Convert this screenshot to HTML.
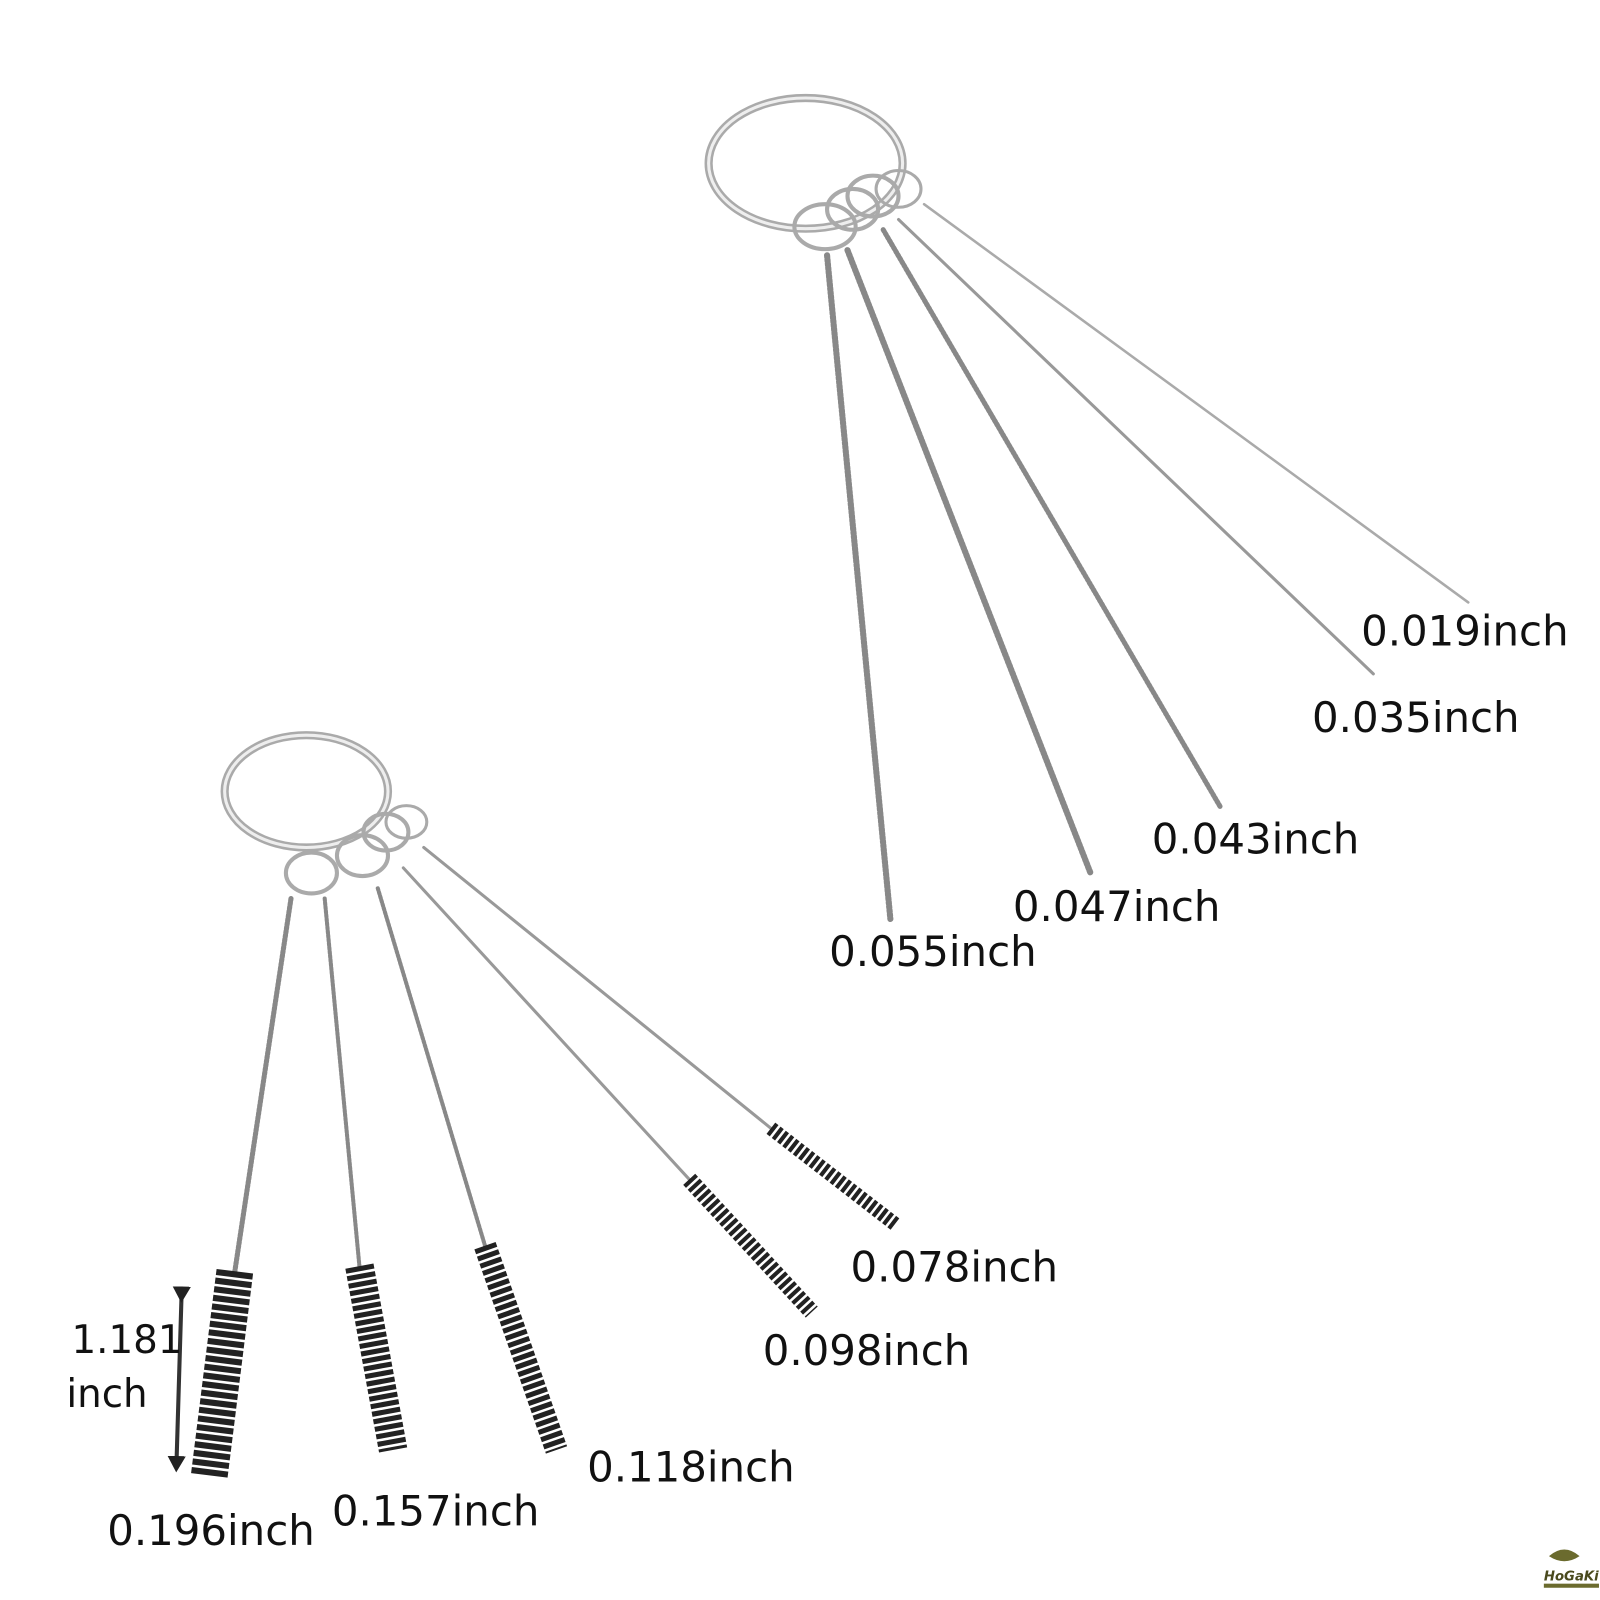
<!DOCTYPE html>
<html><head><meta charset="utf-8"><style>
html,body{margin:0;padding:0;background:#fff;width:1600px;height:1600px;overflow:hidden}
svg{display:block}
text{font-family:"DejaVu Sans","Liberation Sans",sans-serif;fill:#111;font-size:41px}
</style></head><body>
<svg width="1600" height="1600" viewBox="0 0 1567 1567" xmlns="http://www.w3.org/2000/svg">
<defs>
<marker id="ah" markerWidth="16" markerHeight="18" refX="2" refY="9" orient="auto" markerUnits="userSpaceOnUse">
<path d="M0,0 L16,9 L0,18 z" fill="#222"/></marker>
</defs>
<g fill="none" stroke-linecap="round">
<ellipse cx="789" cy="160" rx="95" ry="64" stroke="#aaa" stroke-width="8"/>
<ellipse cx="789" cy="160" rx="95" ry="64" stroke="#eee" stroke-width="3"/>
<ellipse cx="808" cy="222" rx="30" ry="22" stroke="#aaa" stroke-width="4"/>
<ellipse cx="835" cy="205" rx="25" ry="20" stroke="#aaa" stroke-width="4"/>
<ellipse cx="855" cy="192" rx="25" ry="20" stroke="#aaa" stroke-width="4"/>
<ellipse cx="880" cy="185" rx="22" ry="18" stroke="#aaa" stroke-width="3"/>
<line x1="810" y1="250" x2="872" y2="900" stroke="#888" stroke-width="6" stroke-dasharray="2 2"/>
<line x1="830" y1="245" x2="1068" y2="855" stroke="#888" stroke-width="6" stroke-dasharray="2 2"/>
<line x1="865" y1="225" x2="1195" y2="790" stroke="#888" stroke-width="5" stroke-dasharray="2 2"/>
<line x1="880" y1="215" x2="1345" y2="660" stroke="#999" stroke-width="3"/>
<line x1="905" y1="200" x2="1438" y2="590" stroke="#aaa" stroke-width="2.5"/>
<ellipse cx="300" cy="775" rx="80" ry="55" stroke="#aaa" stroke-width="8"/>
<ellipse cx="300" cy="775" rx="80" ry="55" stroke="#eee" stroke-width="3"/>
<ellipse cx="305" cy="855" rx="25" ry="20" stroke="#aaa" stroke-width="4"/>
<ellipse cx="355" cy="838" rx="25" ry="20" stroke="#aaa" stroke-width="4"/>
<ellipse cx="378" cy="815" rx="22" ry="18" stroke="#aaa" stroke-width="4"/>
<ellipse cx="398" cy="805" rx="20" ry="16" stroke="#aaa" stroke-width="3"/>
<line x1="285" y1="880" x2="230" y2="1245" stroke="#888" stroke-width="5" stroke-dasharray="2 2"/>
<line x1="318" y1="880" x2="352" y2="1240" stroke="#888" stroke-width="4" stroke-dasharray="2 2"/>
<line x1="370" y1="870" x2="475" y2="1220" stroke="#888" stroke-width="4" stroke-dasharray="2 2"/>
<line x1="395" y1="850" x2="675" y2="1155" stroke="#999" stroke-width="3"/>
<line x1="415" y1="830" x2="755" y2="1105" stroke="#999" stroke-width="3"/>
<line x1="230" y1="1245" x2="205" y2="1445" stroke="#222" stroke-width="36" stroke-dasharray="6 2.5" stroke-linecap="butt"/>
<line x1="352" y1="1240" x2="385" y2="1420" stroke="#222" stroke-width="28" stroke-dasharray="5 2.5" stroke-linecap="butt"/>
<line x1="475" y1="1220" x2="545" y2="1420" stroke="#222" stroke-width="22" stroke-dasharray="5 2.5" stroke-linecap="butt"/>
<line x1="675" y1="1155" x2="795" y2="1285" stroke="#222" stroke-width="16" stroke-dasharray="4 2.5" stroke-linecap="butt"/>
<line x1="755" y1="1105" x2="878" y2="1200" stroke="#222" stroke-width="14" stroke-dasharray="4 2.5" stroke-linecap="butt"/>
<line x1="178" y1="1262" x2="173" y2="1428" stroke="#333" stroke-width="4" marker-start="url(#ah)" marker-end="url(#ah)" transform="" />
</g>
<text x="1333" y="632">0.019inch</text>
<text x="1285" y="717">0.035inch</text>
<text x="1128" y="836">0.043inch</text>
<text x="992" y="902">0.047inch</text>
<text x="812" y="946">0.055inch</text>
<text x="833" y="1255">0.078inch</text>
<text x="747" y="1337">0.098inch</text>
<text x="575" y="1451">0.118inch</text>
<text x="325" y="1494">0.157inch</text>
<text x="105" y="1513">0.196inch</text>
<text x="70" y="1325" style="font-size:38px">1.181</text>
<text x="65" y="1378" style="font-size:38px">inch</text>
<g transform="translate(1512,1516)">
<path d="M5,8 Q20,-5 35,8 Q20,18 5,8z" fill="#6b6b2e"/>
<text x="0" y="32" style="font-size:13px;font-weight:bold;font-style:italic;fill:#4a4a1e">HoGaKi</text>
<rect x="0" y="35" width="54" height="4" fill="#6b6b2e"/>
</g>
</svg>
</body></html>
